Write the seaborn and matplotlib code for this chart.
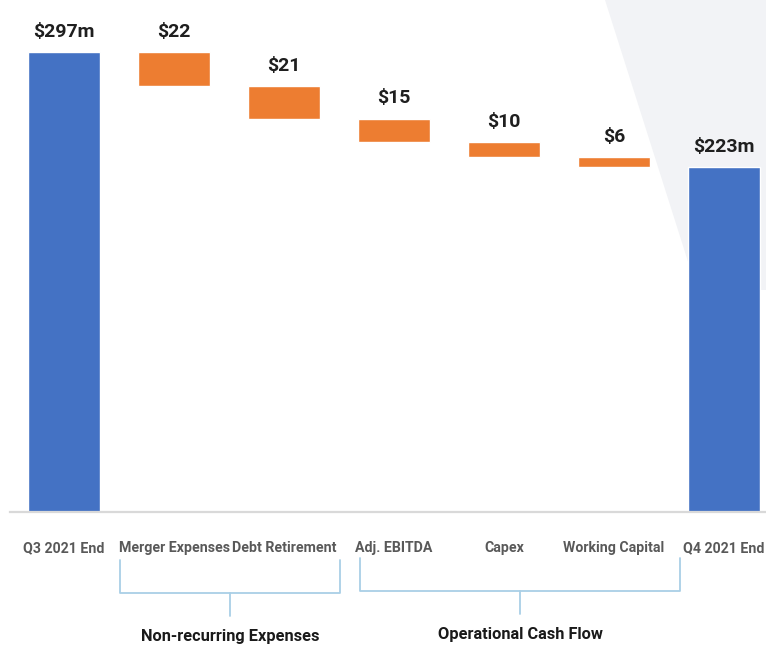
import matplotlib
matplotlib.use("Agg")
import matplotlib.pyplot as plt
import matplotlib.transforms as mtransforms
from matplotlib.patches import Polygon
import pandas as pd
import seaborn as sns

# ---- data -------------------------------------------------------------
categories = ["Q3 2021 End", "Merger Expenses", "Debt Retirement",
              "Adj. EBITDA", "Capex", "Working Capital", "Q4 2021 End"]
opening_cash = 297
cash_uses = [22, 21, 15, 10, 6]          # Merger, Debt, EBITDA, Capex, WC
closing_cash = 223
value_labels = ["$297m", "$22", "$21", "$15", "$10", "$6", "$223m"]

group_names = ["Non-recurring Expenses", "Operational Cash Flow"]
group_spans = [(0.51, 2.51), (2.69, 5.60)]   # category-axis extent of each bracket

# ---- waterfall geometry ------------------------------------------------
level = opening_cash
bottoms, heights, kinds = [0], [opening_cash], ["total"]
for c in cash_uses:
    level -= c
    bottoms.append(level)
    heights.append(c)
    kinds.append("change")
bottoms.append(0)
heights.append(closing_cash)
kinds.append("total")

df = pd.DataFrame({"category": categories, "height": heights,
                   "bottom": bottoms, "kind": kinds})

BLUE = "#4472C4"
ORANGE = "#ED7D31"
FONT = ["Roboto", "DejaVu Sans"]

sns.set_theme(style="white")
plt.rcParams["font.family"] = FONT

W, H = 766, 647
fig = plt.figure(figsize=(W / 100, H / 100), dpi=100)
fig.patch.set_facecolor("white")

# background layer in pixel coordinates
bg = fig.add_axes([0, 0, 1, 1], zorder=0)
bg.set_xlim(0, W)
bg.set_ylim(H, 0)
bg.axis("off")
bg.add_patch(Polygon([(605, 0), (W, 0), (W, 290), (697, 290)],
                     closed=True, facecolor="#F2F3F6", edgecolor="none"))

# main chart axes
ax = fig.add_axes([10 / W, (H - 512) / H, (W - 10) / W, 512 / H], zorder=1)
ax.patch.set_alpha(0)

totals = df[df["kind"] == "total"]
changes = df[df["kind"] == "change"]

sns.barplot(data=totals, x="category", y="height", order=categories,
            color=BLUE, saturation=1, width=0.66, errorbar=None, ax=ax)
sns.barplot(data=changes, x="category", y="height", order=categories,
            color=ORANGE, saturation=1, width=0.66, errorbar=None,
            bottom=changes["bottom"].to_numpy(), ax=ax)

ax.set_xlim(-0.491, 6.382)
ax.set_ylim(0, 330.6)
ax.set_xlabel("")
ax.set_ylabel("")
ax.set_yticks([])
for s in ["top", "right", "left"]:
    ax.spines[s].set_visible(False)
ax.spines["bottom"].set_color("#D9D9D9")
ax.spines["bottom"].set_linewidth(1.6)
ax.tick_params(axis="x", length=0, pad=21)
for t in ax.get_xticklabels():
    t.set_fontsize(10.2)
    t.set_fontweight("bold")
    t.set_color("#595959")

# value labels above each bar
for i, (b, h, lab) in enumerate(zip(bottoms, heights, value_labels)):
    ax.annotate(lab, (i, b + h), xytext=(0, 14.5), textcoords="offset points",
                ha="center", va="center", fontsize=14, fontweight="bold",
                color="#1F1F1F")

# group brackets under the category labels
blend = mtransforms.blended_transform_factory(ax.transData, bg.transData)
bracket_color = "#A9CFE6"
for (x0, x1), name, dy in zip(group_spans, group_names, [0, -2]):
    top, mid, tip = 560 + dy, 593 + dy, 616 + dy
    xm = (x0 + x1) / 2
    bg.plot([x0, x0, x1, x1], [top, mid, mid, top], transform=blend,
            color=bracket_color, lw=1.3, solid_joinstyle="round",
            clip_on=False)
    bg.plot([xm, xm], [mid, tip], transform=blend, color=bracket_color,
            lw=1.3, clip_on=False)
    bg.text(xm, 636 + dy, name, transform=blend, ha="center", va="center",
            fontsize=11.8, fontweight="bold", color="#1A1A1A")

fig.savefig("out.png", dpi=100)
